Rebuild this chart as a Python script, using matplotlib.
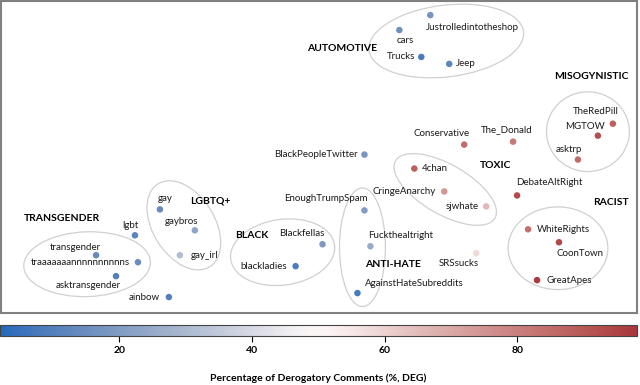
import numpy as np
import matplotlib
matplotlib.use("Agg")
import matplotlib.pyplot as plt
from matplotlib.patches import Ellipse
import seaborn as sns

# subreddit embedding (2d) and percentage of derogatory comments
names = ["Justrolledintotheshop", "cars", "Trucks", "Jeep",
         "TheRedPill", "MGTOW", "asktrp", "Conservative", "The_Donald",
         "BlackPeopleTwitter", "4chan", "CringeAnarchy", "sjwhate", "DebateAltRight",
         "WhiteRights", "CoonTown", "GreatApes",
         "EnoughTrumpSpam", "Fuckthealtright", "SRSsucks", "AgainstHateSubreddits",
         "gay", "gaybros", "gay_irl", "lgbt",
         "transgender", "traaaaaaannnnnnnnnns", "asktransgender", "ainbow",
         "Blackfellas", "blackladies"]
emb_x = [430, 399, 421, 449,
         613, 598, 578, 464, 513,
         364, 414, 444, 486, 517,
         528, 559, 537,
         364, 370, 476, 357,
         159, 194, 179, 134,
         95, 137, 115, 168,
         322, 295]
emb_y = [14, 29, 56, 63,
         123, 135, 159, 144, 141,
         154, 168, 191, 206, 195,
         229, 242, 280,
         210, 246, 253, 293,
         209, 230, 255, 235,
         255, 262, 276, 297,
         244, 266]
deg = [17, 16, 8, 12,
       88, 92, 85, 85, 82,
       18, 88, 74, 66, 93,
       84, 94, 97,
       20, 25, 58, 8,
       14, 23, 31, 12,
       14, 15, 10, 10,
       19, 9]

groups = ["AUTOMOTIVE", "MISOGYNISTIC", "TOXIC", "RACIST", "ANTI-HATE",
          "LGBTQ+", "TRANSGENDER", "BLACK"]
group_x = [342, 591, 495, 611, 393, 210, 61, 251]
group_y = [48, 76, 165, 202, 264, 201, 218, 235]
# cluster outlines: centre x, centre y, width, height, angle
clusters = [(446, 40, 156, 72, -7), (588, 131, 83, 80, 0), (445, 189, 115, 50, 30),
            (558, 248, 100, 83, 0), (362, 247, 46, 119, 0), (183, 225, 98, 62, 58),
            (86, 264, 127, 65, -2), (282, 252, 105, 66, -8)]

# label offsets in pixels (dx, dy down) and alignment
lab = [(-4, 12, "left"), (6, 10, "center"), (-6, 0, "right"), (7, 0, "left"),
       (-17, -12, "center"), (-13, -9, "center"), (-9, -10, "center"), (-23, -11, "center"), (-6, -12, "center"),
       (-7, 0, "right"), (8, 0, "left"), (-8, 0, "right"), (-7, 0, "right"), (-1, -13, "left"),
       (9, 0, "left"), (-2, 11, "left"), (9, 0, "left"),
       (3, -12, "right"), (-2, -11, "left"), (3, 10, "right"), (8, -10, "left"),
       (5, -11, "center"), (-13, -9, "center"), (11, 0, "left"), (-5, -10, "center"),
       (-21, -8, "center"), (-8, 0, "right"), (-28, 9, "center"), (-9, 0, "right"),
       (-21, -11, "center"), (-9, 0, "right")]

plt.rcParams["font.family"] = ["Lato", "DejaVu Sans"]
cmap = sns.color_palette("vlag", as_cmap=True)
norm = matplotlib.colors.Normalize(vmin=2, vmax=98)

fig = plt.figure(figsize=(6.4, 3.85), dpi=100)
ax = fig.add_axes([0.002, 0.187, 0.993, 0.81])
ax.set_xlim(0, 637)
ax.set_ylim(313, 0)
ax.set_xticks([])
ax.set_yticks([])
for s in ax.spines.values():
    s.set_color("#808080")
    s.set_linewidth(1.5)

for cx, cy, w, h, a in clusters:
    ax.add_patch(Ellipse((cx, cy), w, h, angle=a, fill=False, edgecolor="#d0d0d0", lw=0.9))

ax.scatter(emb_x, emb_y, c=deg, cmap=cmap, norm=norm, s=22, edgecolors="none", zorder=3)

for i, n in enumerate(names):
    dx, dy, ha = lab[i]
    ax.annotate(n, (emb_x[i], emb_y[i]), xytext=(dx, -dy), textcoords="offset pixels",
                ha=ha, va="center", fontsize=7, color="#1a1a1a")

for g, gx, gy in zip(groups, group_x, group_y):
    ax.text(gx, gy, g, ha="center", va="center", fontsize=7.5, fontweight="bold", color="black")

cax = fig.add_axes([0.0, 0.128, 0.995, 0.029])
sm = matplotlib.cm.ScalarMappable(norm=norm, cmap=cmap)
cb = fig.colorbar(sm, cax=cax, orientation="horizontal")
cb.set_ticks([20, 40, 60, 80])
cb.outline.set_edgecolor("#444444")
cb.ax.tick_params(labelsize=7.5, length=4, width=0.8)
for t in cb.ax.get_xticklabels():
    t.set_fontweight("bold")
cb.set_label("Percentage of Derogatory Comments (%, DEG)", fontsize=7.5, fontweight="bold", labelpad=13)

fig.savefig("out.png", dpi=100)
